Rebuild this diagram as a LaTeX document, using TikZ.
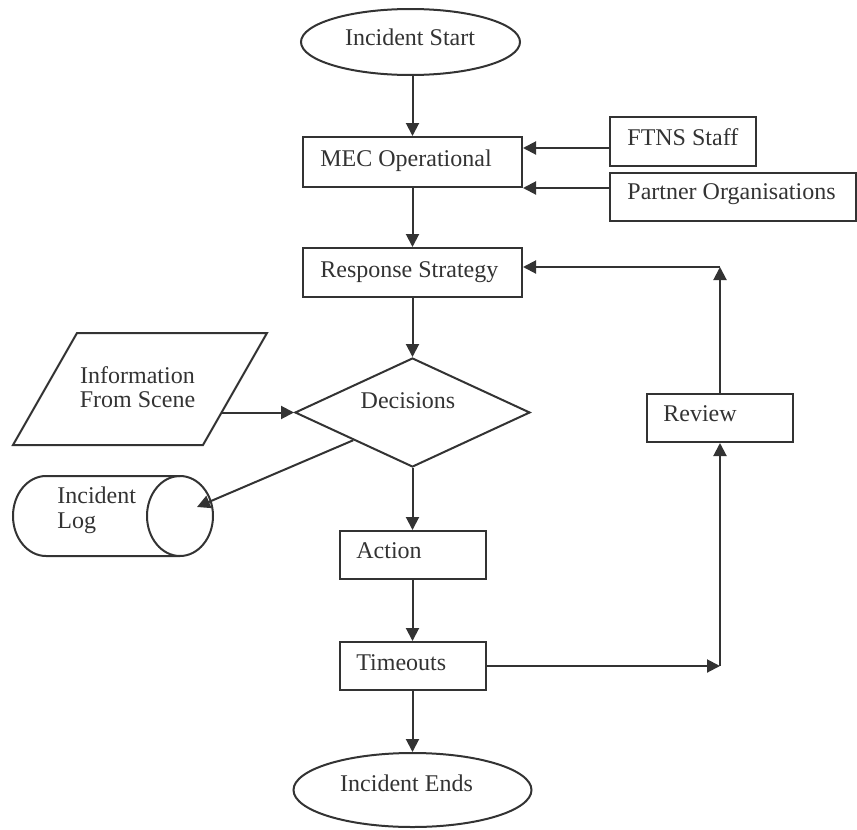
\documentclass[tikz,border=0pt]{standalone}
\usepackage{fontspec}
\setmainfont{Liberation Serif}
\usetikzlibrary{arrows.meta,shapes.geometric,calc}
\definecolor{ink}{HTML}{333333}
\begin{document}
\begin{tikzpicture}[x=0.5pt,y=-0.5pt,
  every node/.style={font=\fontsize{12pt}{12.3pt}\selectfont, text=ink},
  box/.style={draw=ink, line width=1pt, rectangle, inner sep=0pt},
  oval/.style={draw=ink, line width=1pt, ellipse, inner sep=0pt},
  lbl/.style={inner sep=0pt},
  arr/.style={draw=ink, line width=1pt, -{Triangle[length=6.5pt,width=6.5pt]}},
  ln/.style={draw=ink, line width=1pt}]
\useasboundingbox (0,0) rectangle (857,830);

% shapes
\node[oval, minimum width=109.5pt, minimum height=33pt] (start) at (410.5,42) {};
\node[box, minimum width=109.5pt, minimum height=25pt] (mec) at (412.5,162) {};
\node[box, minimum width=73pt, minimum height=24.5pt] (ftns) at (683,141.5) {};
\node[box, minimum width=123pt, minimum height=24pt] (partner) at (733,197) {};
\node[box, minimum width=109.5pt, minimum height=24.5pt] (rs) at (412.5,272.5) {};
\node[diamond, draw=ink, line width=1pt, inner sep=0pt, minimum width=117.5pt, minimum height=54.5pt] (dec) at (412.5,412.5) {};
\node[box, minimum width=73pt, minimum height=24pt] (rev) at (720,418) {};
\node[box, minimum width=73pt, minimum height=24pt] (act) at (412.5,555) {};
\node[box, minimum width=73pt, minimum height=24pt] (tim) at (412.5,666) {};
\node[oval, minimum width=119pt, minimum height=37pt] (ends) at (412.5,790) {};

% parallelogram (information from scene)
\coordinate (pBL) at (13,445);
\coordinate (pTL) at (77,333);
\coordinate (pTR) at (267,333);
\coordinate (pBR) at (203,445);
\draw[ln] (pBL) -- (pTL) -- (pTR) -- (pBR) -- cycle;
\coordinate (parR) at (221.6,412.5);

% cylinder (incident log)
\coordinate (logTL) at (46,476);
\coordinate (logC) at (180,516);
\coordinate (logTip) at (197,507);
\draw[ln] (180,476) -- (logTL) arc[start angle=-90, end angle=-270, x radius=33, y radius=40] -- (180,556);
\draw[ln] (logC) ellipse [x radius=33, y radius=40];

% labels
\node[lbl, anchor=base] (tstart) at (410,45) {Incident Start};
\node[lbl, anchor=base west] (tmec) at (320,166) {MEC Operational};
\node[lbl, anchor=base west] (tftns) at (627,145) {FTNS Staff};
\node[lbl, anchor=base west] (tpartner) at (627,199) {Partner Organisations};
\node[lbl, anchor=base west] (trs) at (320,277) {Response Strategy};
\node[lbl, anchor=base] (tdec) at (408,408) {Decisions};
\node[lbl, anchor=base west] (trev) at (663,421) {Review};
\node[lbl, anchor=base west] (tact) at (356,558) {Action};
\node[lbl, anchor=base west] (ttim) at (356,670) {Timeouts};
\node[lbl, anchor=base] (tends) at (406.5,791) {Incident Ends};
\node[lbl, align=center] (tinfo) at (137.5,387) {Information\\From Scene};
\node[lbl, align=left, anchor=west] (tlog) at (57,510) {Incident\\Log};

% connectors
\draw[arr] (mec.north |- start.south) -- (mec.north);
\draw[arr] ($(ftns.west)+(0,6.5)$) -- ($(mec.east)+(0,-14)$);
\draw[arr] (partner.west |- mec.south east) -- (mec.south east);
\draw[arr] (mec.south) -- (rs.north);
\draw[arr] (rs.south) -- (dec.north);
\draw[arr] (parR) -- (dec.west);
\draw[arr] (dec.south west) -- (logTip);
\draw[arr] (dec.south) -- (act.north);
\draw[arr] (act.south) -- (tim.north);
\draw[arr] (tim.south) -- (ends.north);
\coordinate (c1) at (tim.east -| rev.south);
\draw[arr] (tim.east) -- (c1);
\draw[arr] (c1) -- (rev.south);
\coordinate (c2) at ($(rev.north |- rs.east)+(0,-5.5)$);
\draw[arr] (rev.north) -- (c2);
\draw[arr] (c2) -- (c2 -| rs.east);
\end{tikzpicture}
\end{document}
